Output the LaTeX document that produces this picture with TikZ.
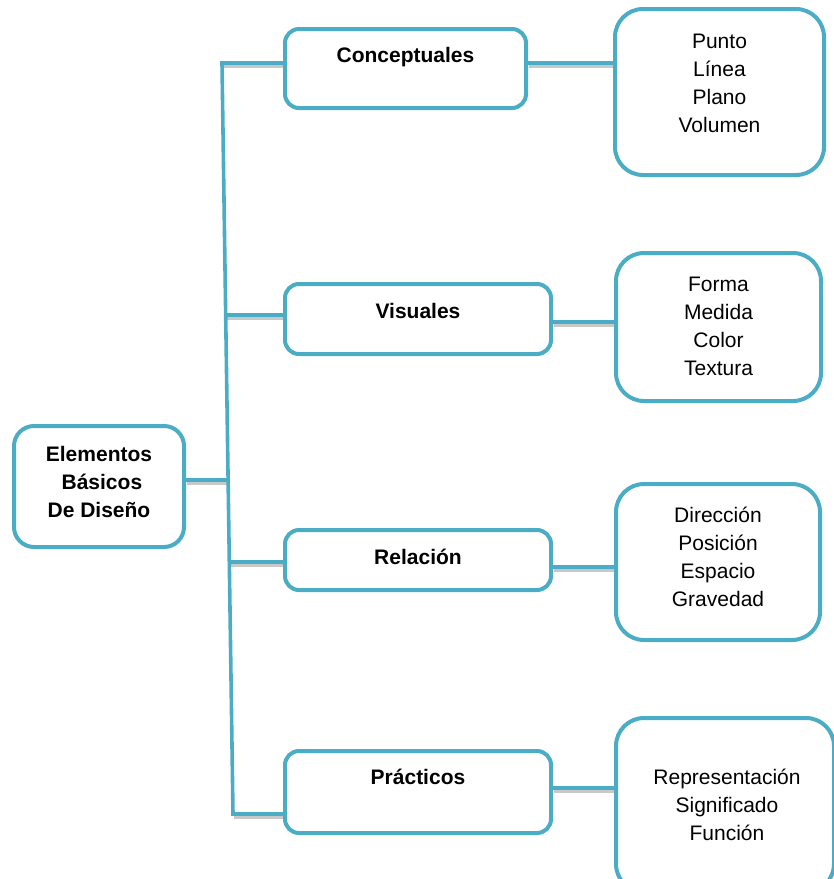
\documentclass[tikz,border=0pt]{standalone}
\usepackage{fontspec}
\setmainfont{Liberation Sans}
\usetikzlibrary{backgrounds}
\definecolor{aqua}{HTML}{4BACC6}
\definecolor{shadowgray}{HTML}{C8C8C8}
\tikzset{
  box/.style={draw=aqua, line width=4pt, fill=white, inner sep=0pt},
  link/.style={draw=aqua, line width=3.6pt, line join=miter},
  drop/.style={draw=shadowgray, line width=3.6pt, transform canvas={xshift=1pt, yshift=-3.5pt}},
  bold/.style={font=\fontsize{21}{28}\selectfont\bfseries, align=center, inner sep=0pt},
  plain/.style={font=\fontsize{21}{28}\selectfont, align=center, inner sep=0pt},
}
\begin{document}
\begin{tikzpicture}[x=1pt,y=-1pt]
    \useasboundingbox (0,0) rectangle (834,879);
    % boxes
    \node[box, rounded corners=20pt, minimum width=170pt, minimum height=121pt] (root) at (99,486.5) {};
    \node[box, rounded corners=14pt, minimum width=241pt, minimum height=79pt] (concept) at (405.5,68.5) {};
    \node[box, rounded corners=14pt, minimum width=266pt, minimum height=70pt] (visual) at (418,319) {};
    \node[box, rounded corners=14pt, minimum width=266pt, minimum height=60pt] (relac) at (418,560) {};
    \node[box, rounded corners=14pt, minimum width=266pt, minimum height=82pt] (pract) at (418,792) {};
    \node[box, rounded corners=28pt, minimum width=209pt, minimum height=166pt] (punto) at (719.5,92) {};
    \node[box, rounded corners=28pt, minimum width=205pt, minimum height=148pt] (forma) at (718.5,327) {};
    \node[box, rounded corners=28pt, minimum width=204pt, minimum height=156pt] (direc) at (718,562) {};
    \node[box, rounded corners=28pt, minimum width=218pt, minimum height=174pt] (repre) at (725,805) {};
    % trunk
    \coordinate (ttop) at (222,63);
    \coordinate (tbot) at (233,814);
    \coordinate (troot) at (228.1,480);
    \coordinate (tvis) at (225.7,315);
    \coordinate (trel) at (229.3,562);
    % right rows
    \coordinate (k1) at (570,63);
    \coordinate (k2) at (583,322);
    \coordinate (k3) at (583,567);
    \coordinate (k4) at (583,788);
    \begin{scope}[on background layer]
    % shadows
    \draw[drop] (ttop) -- (ttop -| concept.west);
    \draw[drop] (tvis) -- (tvis -| visual.west);
    \draw[drop] (trel) -- (trel -| relac.west);
    \draw[drop] (tbot) -- (tbot -| pract.west);
    \draw[drop] (troot -| root.east) -- (troot);
    \draw[drop] (k1 -| concept.east) -- (k1 -| punto.west);
    \draw[drop] (k2 -| visual.east) -- (k2 -| forma.west);
    \draw[drop] (k3 -| relac.east) -- (k3 -| direc.west);
    \draw[drop] (k4 -| pract.east) -- (k4 -| repre.west);
    % connectors
    \draw[link] (ttop -| concept.west) -- (ttop) -- (tbot) -- (tbot -| pract.west);
    \draw[link] (tvis) -- (tvis -| visual.west);
    \draw[link] (trel) -- (trel -| relac.west);
    \draw[link] (troot -| root.east) -- (troot);
    \draw[link] (k1 -| concept.east) -- (k1 -| punto.west);
    \draw[link] (k2 -| visual.east) -- (k2 -| forma.west);
    \draw[link] (k3 -| relac.east) -- (k3 -| direc.west);
    \draw[link] (k4 -| pract.east) -- (k4 -| repre.west);
    \end{scope}
    % texts
    \node[bold] (roottext) at (99,482) {Elementos\\ \ Básicos\\De Diseño};
    \node[bold] (concepttext) at (405.5,57) {Conceptuales};
    \node[bold] (visualtext) at (418,311) {Visuales};
    \node[bold] (relactext) at (418,557) {Relación};
    \node[bold] (practtext) at (418,777) {Prácticos};
    \node[plain] (puntotext) at (719.5,83.5) {Punto\\Línea\\Plano\\Volumen};
    \node[plain] (formatext) at (718.5,326) {Forma\\Medida\\Color\\Textura};
    \node[plain] (directext) at (718,557) {Dirección\\Posición\\Espacio\\Gravedad};
    \node[plain] (repretext) at (727,805) {Representación\\Significado\\Función};
\end{tikzpicture}
\end{document}
